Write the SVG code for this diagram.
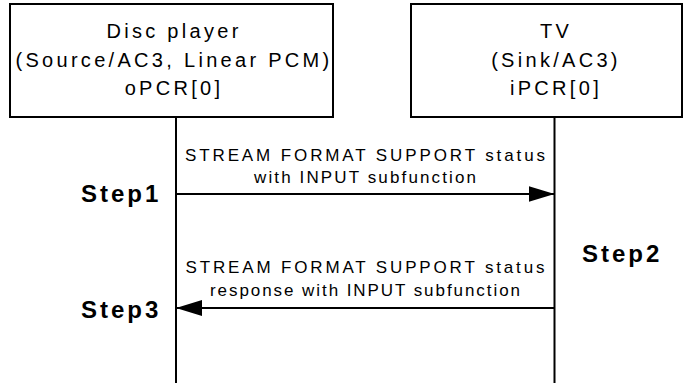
<svg xmlns="http://www.w3.org/2000/svg" width="688" height="383" viewBox="0 0 688 383">
  <defs>
    <marker id="ah" markerWidth="26" markerHeight="16" refX="26" refY="8" orient="auto-start-reverse" markerUnits="userSpaceOnUse">
      <path d="M0,0 L26,8 L0,16 Z" fill="#000"/>
    </marker>
  </defs>
  <style>
    .box { fill: #fff; stroke: #000; stroke-width: 2; }
    .life { stroke: #000; stroke-width: 2; fill: none; }
    .msg { stroke: #000; stroke-width: 2; fill: none; }
    .nt { font-family: "Liberation Sans", Arial, sans-serif; font-size: 20px; letter-spacing: 3.3px; fill: #000; text-anchor: middle; }
    .ml { font-family: "Liberation Sans", Arial, sans-serif; font-size: 17px; fill: #000; text-anchor: middle; }
    .st { font-family: "Liberation Sans", Arial, sans-serif; font-size: 24px; font-weight: bold; letter-spacing: 3px; fill: #000; }
  </style>
  <rect width="688" height="383" fill="#fff"/>
  <g id="disc-player">
    <rect class="box" x="10" y="4" width="323" height="113"/>
    <text class="nt" x="174" y="38">Disc player</text>
    <text class="nt" x="174" y="67">(Source/AC3, Linear PCM)</text>
    <text class="nt" x="174" y="95">oPCR[0]</text>
    <line class="life" x1="176" y1="117" x2="176" y2="383"/>
  </g>
  <g id="tv">
    <rect class="box" x="411" y="4" width="271" height="113"/>
    <text class="nt" x="556" y="38">TV</text>
    <text class="nt" x="556" y="67">(Sink/AC3)</text>
    <text class="nt" x="556" y="95">iPCR[0]</text>
    <line class="life" x1="554.5" y1="117" x2="554.5" y2="383"/>
  </g>
  <g id="connectors">
    <line class="msg" x1="176" y1="194" x2="554.5" y2="194" marker-end="url(#ah)"/>
    <line class="msg" x1="554.5" y1="308" x2="176" y2="308" marker-end="url(#ah)"/>
  </g>
  <g id="labels">
    <text class="ml" x="365" y="161" textLength="360" lengthAdjust="spacing">STREAM FORMAT SUPPORT status</text>
    <text class="ml" x="365" y="183" textLength="222" lengthAdjust="spacing">with INPUT subfunction</text>
    <text class="ml" x="365" y="273" textLength="359" lengthAdjust="spacing">STREAM FORMAT SUPPORT status</text>
    <text class="ml" x="365" y="296" textLength="310" lengthAdjust="spacing">response with INPUT subfunction</text>
    <text class="st" x="81" y="202">Step1</text>
    <text class="st" x="582" y="262">Step2</text>
    <text class="st" x="81" y="318">Step3</text>
  </g>
</svg>
